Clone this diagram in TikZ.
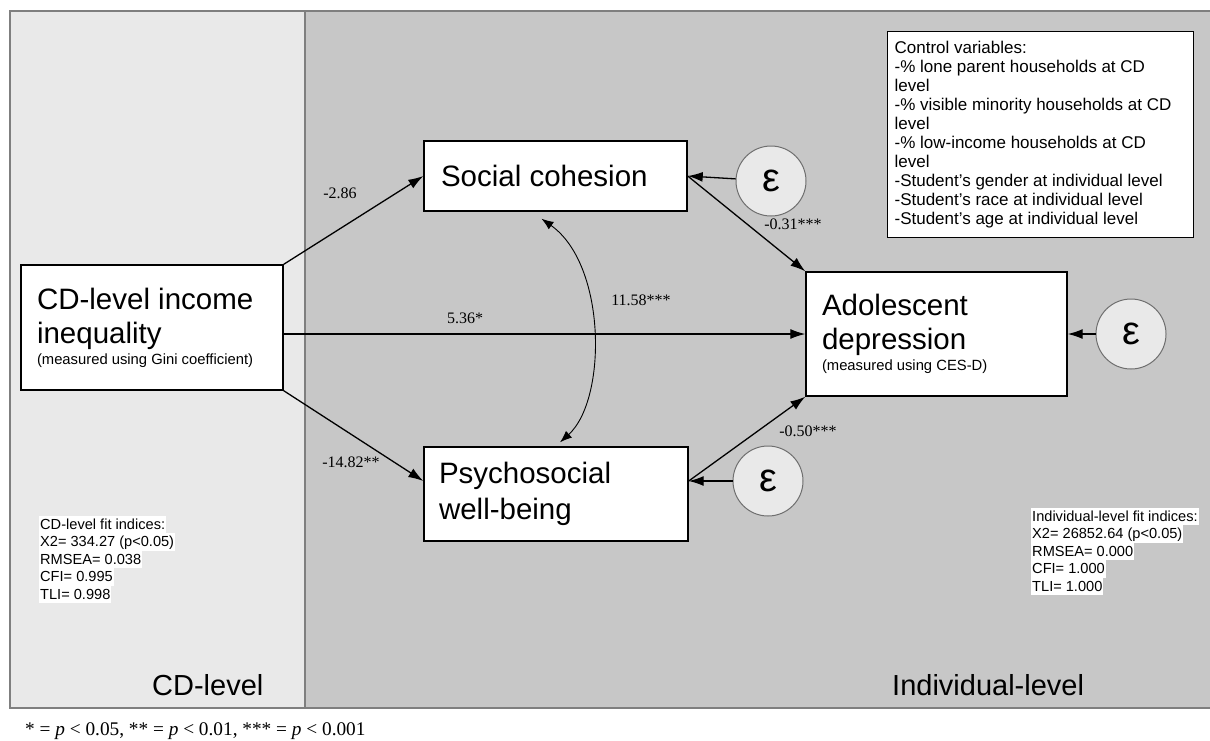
\documentclass[tikz,border=0pt]{standalone}
\usepackage{fontspec}
\setmainfont{Liberation Sans}
\newfontfamily\tms{Liberation Serif}
\usetikzlibrary{arrows.meta,calc}
\definecolor{leftbg}{HTML}{E9E9E9}
\definecolor{rightbg}{HTML}{C7C7C7}
\definecolor{framecol}{HTML}{7F7F7F}
\definecolor{circfill}{HTML}{E9E9E9}
\definecolor{circdraw}{HTML}{6F6F6F}
\newcommand{\hlbox}[1]{{\setlength{\fboxsep}{0pt}\colorbox{white}{\rule[-4pt]{0pt}{17.4pt}\hspace{1pt}#1\hspace{1pt}}}}
\newcommand{\natsp}{\spaceskip=0pt\xspaceskip=0pt\relax}
\newcommand{\subtxt}[1]{{\fontsize{14.8}{17}\selectfont\natsp #1}}
\begin{document}
\begin{tikzpicture}[x=1pt,y=-1pt,
  framestyle/.style={draw=framecol,line width=2pt},
  var/.style={draw=black,line width=1.4pt,fill=white,align=left,inner ysep=0pt,
    font=\fontsize{29.5}{34}\selectfont},
  errc/.style={circle,draw=circdraw,line width=1pt,fill=circfill,minimum size=70pt,inner sep=0pt,
    font=\fontsize{40}{40}\selectfont},
  arr/.style={line width=1.3pt,-{Latex[length=15pt,width=10pt]}},
  cov/.style={line width=0.9pt,{Latex[length=12pt,width=9pt]}-{Latex[length=12pt,width=9pt]}},
  lbl/.style={inner sep=0pt,font=\tms\fontsize{16}{16}\selectfont},
  fitidx/.style={inner sep=0pt,align=left,font=\fontsize{14.6}{17.5}\selectfont},
  levellbl/.style={inner sep=0pt,font=\fontsize{29}{29}\selectfont}]
\useasboundingbox (0,0) rectangle (1210,740);
\fill[white] (0,0) rectangle (1210,740);
\fill[leftbg] (10,11) rectangle (305,708);
\fill[rightbg] (305,11) rectangle (1210,708);
\draw[framestyle] (1210,11) -- (10,11) -- (10,708) -- (1210,708);
\draw[framestyle] (305,11) -- (305,708);

% variables
\node[var,minimum width=262pt,minimum height=125pt,text width=230pt,inner xsep=16pt] (cd) at (152,327.5)
  {\natsp CD-level income\\inequality\\[-13pt]\subtxt{(measured using Gini coefficient)}};
\node[var,minimum width=263pt,minimum height=70pt,text width=229pt,inner xsep=17pt] (sc) at (555.5,176)
  {\natsp Social cohesion};
\node[var,minimum width=264pt,minimum height=94pt,text width=234pt,inner xsep=15pt,
  font=\fontsize{29.5}{36}\selectfont] (pw) at (556,494)
  {\natsp Psychosocial\\well-being};
\node[var,minimum width=261pt,minimum height=124pt,text width=229pt,inner xsep=16pt] (ad) at (936.5,334)
  {\natsp Adolescent\\depression\\[-13pt]\subtxt{(measured using CES-D)}};

% error terms
\node[errc] (e1) at (771,181) {ε};
\node[errc] (e2) at (1131,334) {ε};
\node[errc] (e3) at (768,481) {ε};

% control variables
\node[draw=black,line width=1.2pt,fill=white,anchor=north west,minimum width=306pt,minimum height=206pt,
  text width=292pt,inner xsep=7pt,inner ysep=0pt,align=left,font=\fontsize{17}{18.9}\selectfont] (ctrl) at (887,31)
  {\natsp Control variables:\\-\% lone parent households at CD\\level\\-\% visible minority households at CD\\level\\-\% low-income households at CD\\level\\-Student’s gender at individual level\\-Student’s race at individual level\\-Student’s age at individual level};

% paths
\draw[arr] (cd.north east) -- (sc.west);
\draw[arr] (cd.south east) -- (pw.west |- e3);
\draw[arr] (cd.east |- ad.west) -- (ad.west);
\draw[arr] (sc.east) -- (ad.north west);
\draw[arr] (pw.east |- e3) -- (ad.south west);
\draw[arr] (e1) -- (sc.east);
\draw[arr] (e2) -- (ad.east);
\draw[arr] (e3) -- (pw.east |- e3);
\draw[cov] ([shift={(-14,7)}]sc.south) .. controls (607,265) and (607,400) .. ([shift={(4,-4)}]pw.north);

% path labels
\node[lbl] (l1) at (340,193) {-2.86};
\node[lbl] (l2) at (351,462) {-14.82**};
\node[lbl] (l3) at (465,318) {5.36*};
\node[lbl] (l4) at (641,300) {11.58***};
\node[lbl] (l5) at (793,224) {-0.31***};
\node[lbl] (l6) at (808,431) {-0.50***};

% fit indices
\node[fitidx,anchor=north west] (fitcd) at (39,515.5)
  {\hlbox{CD-level fit indices:}\\\hlbox{X2= 334.27 (p<0.05)}\\\hlbox{RMSEA= 0.038}\\\hlbox{CFI= 0.995}\\\hlbox{TLI= 0.998}};
\node[fitidx,anchor=north west] (fitind) at (1031,507.5)
  {\hlbox{Individual-level fit indices:}\\\hlbox{X2= 26852.64 (p<0.05)}\\\hlbox{RMSEA= 0.000}\\\hlbox{CFI= 1.000}\\\hlbox{TLI= 1.000}};

% level labels
\node[levellbl,anchor=base west] (cdlvl) at (152,695) {CD-level};
\node[levellbl,anchor=base west] (indlvl) at (892,695) {Individual-level};

% footnote
\node[inner sep=0pt,anchor=base west,font=\tms\fontsize{19.3}{19.3}\selectfont] (foot) at (25,735)
  {* = \textit{p} < 0.05, ** = \textit{p} < 0.01, *** = \textit{p} < 0.001};
\end{tikzpicture}
\end{document}
